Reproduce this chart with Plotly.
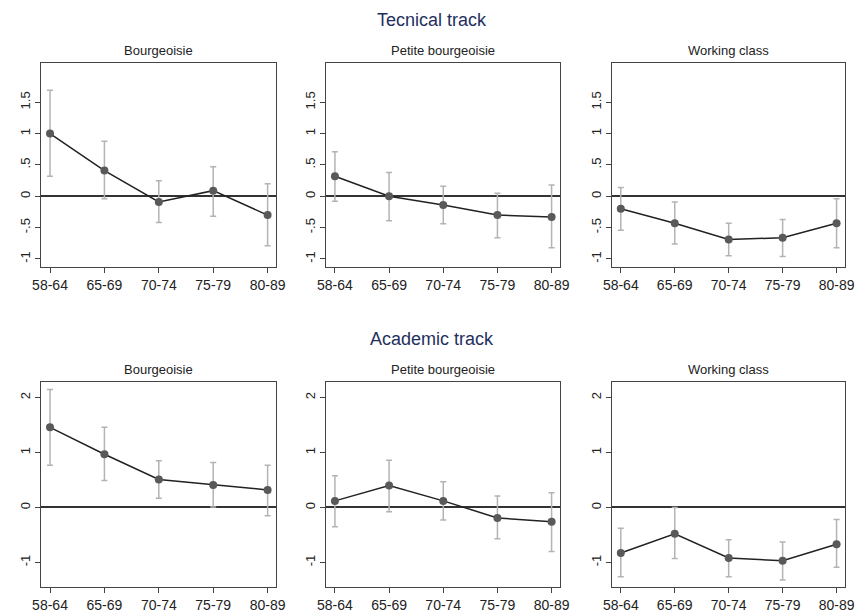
import plotly.graph_objects as go

cohorts = ["58-64", "65-69", "70-74", "75-79", "80-89"]
classes = ["Bourgeoisie", "Petite bourgeoisie", "Working class"]
tracks = ["Tecnical track", "Academic track"]

# Technical track: estimates, upper and lower CI bounds
tech_bourg = [1.00, 0.41, -0.09, 0.09, -0.30]
tech_bourg_hi = [1.69, 0.88, 0.25, 0.47, 0.20]
tech_bourg_lo = [0.32, -0.04, -0.42, -0.32, -0.79]

tech_petite = [0.32, 0.00, -0.14, -0.30, -0.33]
tech_petite_hi = [0.71, 0.38, 0.16, 0.05, 0.18]
tech_petite_lo = [-0.08, -0.39, -0.44, -0.66, -0.82]

tech_work = [-0.20, -0.43, -0.69, -0.66, -0.43]
tech_work_hi = [0.14, -0.09, -0.43, -0.37, -0.04]
tech_work_lo = [-0.54, -0.76, -0.95, -0.96, -0.82]

# Academic track
acad_bourg = [1.46, 0.97, 0.51, 0.41, 0.32]
acad_bourg_hi = [2.15, 1.46, 0.85, 0.82, 0.77]
acad_bourg_lo = [0.77, 0.49, 0.17, 0.01, -0.15]

acad_petite = [0.12, 0.40, 0.12, -0.19, -0.26]
acad_petite_hi = [0.58, 0.86, 0.47, 0.21, 0.27]
acad_petite_lo = [-0.35, -0.08, -0.23, -0.57, -0.80]

acad_work = [-0.83, -0.48, -0.92, -0.97, -0.67]
acad_work_hi = [-0.38, 0.00, -0.59, -0.63, -0.22]
acad_work_lo = [-1.26, -0.93, -1.26, -1.32, -1.09]

top_ticks = [-1, -0.5, 0, 0.5, 1, 1.5]
top_ticktext = ["-1", "-.5", "0", ".5", "1", "1.5"]
bot_ticks = [-1, 0, 1, 2]
bot_ticktext = ["-1", "0", "1", "2"]

panels = [
    (tech_bourg, tech_bourg_hi, tech_bourg_lo),
    (tech_petite, tech_petite_hi, tech_petite_lo),
    (tech_work, tech_work_hi, tech_work_lo),
    (acad_bourg, acad_bourg_hi, acad_bourg_lo),
    (acad_petite, acad_petite_hi, acad_petite_lo),
    (acad_work, acad_work_hi, acad_work_lo),
]

W, H = 864, 613
xdom_px = [(33, 273), (324, 563), (616, 854)]
ydom_px = [(63, 268), (383, 589)]
FONT = "Liberation Sans, Arial"

fig = go.Figure()
layout = {}
annotations = []

for i, (est, hi, lo) in enumerate(panels):
    r, c = divmod(i, 3)
    idx = i + 1
    xa = "x" if idx == 1 else f"x{idx}"
    ya = "y" if idx == 1 else f"y{idx}"
    err_plus = [h - e for h, e in zip(hi, est)]
    err_minus = [e - l for e, l in zip(est, lo)]
    fig.add_trace(go.Scatter(
        x=cohorts, y=est, mode="lines+markers",
        line=dict(color="#222222", width=1.5),
        marker=dict(color="#595959", size=8),
        error_y=dict(type="data", symmetric=False, array=err_plus,
                     arrayminus=err_minus, color="#b3b3b3",
                     thickness=1.5, width=3),
        xaxis=xa, yaxis=ya, showlegend=False, hoverinfo="skip"))
    x0, x1 = xdom_px[c]
    y0, y1 = ydom_px[r]
    xkey = "xaxis" if idx == 1 else f"xaxis{idx}"
    ykey = "yaxis" if idx == 1 else f"yaxis{idx}"
    layout[xkey] = dict(
        domain=[x0 / W, x1 / W], anchor=ya, type="category",
        range=[-0.16, 4.16], showgrid=False, zeroline=False,
        showline=True, mirror=True, linecolor="#444444", linewidth=1,
        ticks="outside", ticklen=5, tickcolor="#444444",
        tickfont=dict(family=FONT, size=14, color="#222222"))
    if r == 0:
        yr, tv, tt = [-1.13, 2.13], top_ticks, top_ticktext
    else:
        yr, tv, tt = [-1.45, 2.29], bot_ticks, bot_ticktext
    layout[ykey] = dict(
        domain=[1 - y1 / H, 1 - y0 / H], anchor=xa, range=yr,
        tickvals=tv, ticktext=tt, tickangle=-90,
        showgrid=False, zeroline=True, zerolinecolor="#333333", zerolinewidth=1.5,
        showline=True, mirror=True, linecolor="#444444", linewidth=1,
        ticks="outside", ticklen=5, tickcolor="#444444",
        tickfont=dict(family=FONT, size=13, color="#222222"))
    annotations.append(dict(
        text=classes[c], x=(x0 + x1) / 2 / W, y=1 - (y0 - 3) / H,
        xref="paper", yref="paper", xanchor="center", yanchor="bottom",
        showarrow=False,
        font=dict(family=FONT, size=13, color="#222222")))

for r, t in enumerate(tracks):
    ypix = [20, 340][r]
    annotations.append(dict(
        text=t, x=432 / W, y=1 - ypix / H, xref="paper", yref="paper",
        xanchor="center", yanchor="middle", showarrow=False,
        font=dict(family=FONT, size=18, color="#1f2f5e")))

fig.update_layout(
    width=W, height=H, margin=dict(l=0, r=0, t=0, b=0),
    paper_bgcolor="white", plot_bgcolor="white",
    annotations=annotations, **layout)

fig.write_html("out.html")
